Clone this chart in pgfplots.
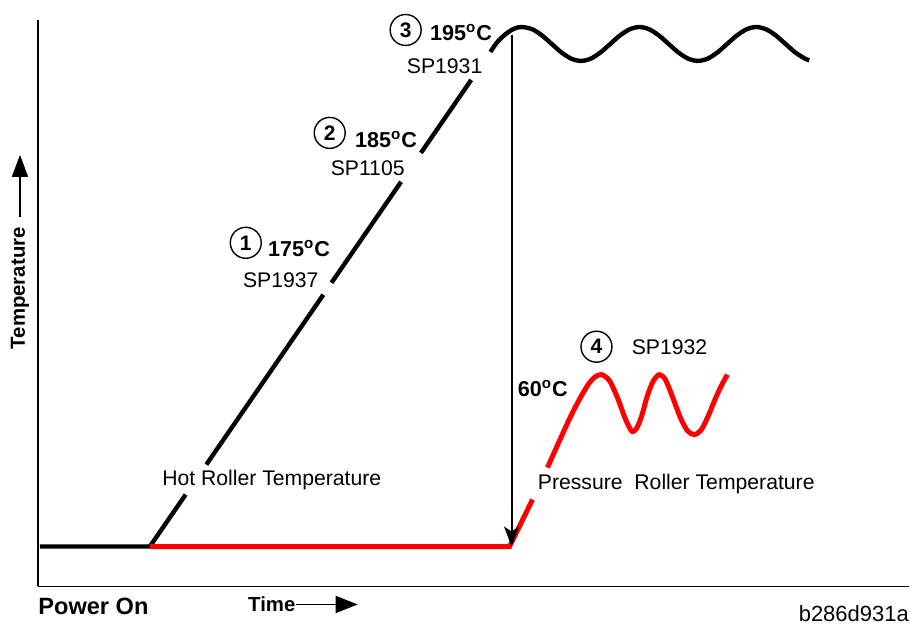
\documentclass[border=0pt]{standalone}
\usepackage{fontspec}
\setmainfont{Liberation Sans}
\usepackage{pgfplots}
\pgfplotsset{compat=1.18}
\usetikzlibrary{arrows.meta}
\begin{document}
\begin{tikzpicture}[
  lab/.style={font=\fontsize{10.6}{12}\selectfont, inner sep=0pt},
  blab/.style={font=\fontsize{10.8}{12}\selectfont\bfseries, inner sep=0pt},
  circ/.style={circle, draw, line width=0.7pt, minimum size=15.5pt, inner sep=0pt, font=\fontsize{10.5}{12}\selectfont\bfseries},
]
\begin{axis}[
  scale only axis, width=436pt, height=283.5pt,
  xmin=38, xmax=910, ymin=42, ymax=609,
  axis lines=left, axis line style={-, line width=0.8pt, black},
  xtick=\empty, ytick=\empty, clip=false,
]
% bounding box of the whole picture
\path (axis cs:0,0) rectangle (axis cs:910,629);

% hot roller (black)
\addplot[black, line width=2.2pt] coordinates {(40,82)(150,82)(185.8,134)};
\addplot[black, line width=2.2pt] coordinates {(206.5,164)(323.6,334)};
\addplot[black, line width=2.2pt] coordinates {(331.8,346)(401.4,447)};
\addplot[black, line width=2.2pt] coordinates {(421.3,476)(471.6,549)};
\addplot[black, line width=2.2pt, smooth] coordinates {
 (490.9,577)(497,586)(505,594)(512,599)(518,601.5)(523,602)
 (532.75,599.7)(542.5,593.5)(552.25,585)(562,576.5)(571.75,570.3)(581.5,568)
 (591.25,570.3)(601,576.5)(610.75,585)(620.5,593.5)(630.25,599.7)(640,602)
 (649.75,599.7)(659.5,593.5)(669.25,585)(679,576.5)(688.75,570.3)(698.5,568)
 (708.25,570.3)(718,576.5)(727.75,585)(737.5,593.5)(747.25,599.7)(757,602)
 (766.75,599.7)(776.5,593.5)(786.25,585)(796,576.5)(805.75,570.3)(810,568.7)};

% pressure roller (red)
\addplot[red, line width=2.5pt] coordinates {(150,82)(510,82)(533,129)};
\addplot[red, line width=2.5pt, smooth] coordinates {
 (548,161)(560,188)(572,214)(582,233)(590,246)(596,252)(602,254)(610,248)
 (618,231)(625,212)(630,201)(633,197)(637,200)(642,212)(648,233)(654,248)
 (660,254)(666,249)(673,232)(681,211)(688,198)(695,194)(702,199)(709,213)
 (716,230)(722,243)(728,254)};

% vertical arrow
\addplot[black, line width=1pt, -{Stealth[length=10pt,width=7.5pt,inset=2.5pt]}] coordinates {(512,594)(512,82)};

% labels
\node[circ] at (axis cs:406,599) {3};
\node[blab, anchor=west] at (axis cs:430,596) {195\textsuperscript{o}C};
\node[lab] at (axis cs:445,563) {SP1931};
\node[circ] at (axis cs:330,496) {2};
\node[blab, anchor=west] at (axis cs:355,489) {185\textsuperscript{o}C};
\node[lab] at (axis cs:368,461) {SP1105};
\node[circ] at (axis cs:246,386) {1};
\node[blab, anchor=west] at (axis cs:268,380) {175\textsuperscript{o}C};
\node[lab] at (axis cs:281,349) {SP1937};
\node[circ] at (axis cs:597,282) {4};
\node[lab, anchor=west] at (axis cs:632,281) {SP1932};
\node[blab, anchor=west] at (axis cs:518,240) {60\textsuperscript{o}C};
\node[lab, anchor=west] at (axis cs:162,149) {Hot Roller Temperature};
\node[lab, anchor=west] at (axis cs:538,145) {Pressure\ \ Roller Temperature};

% bottom texts
\node[font=\fontsize{11.8}{13}\selectfont\bfseries, inner sep=0pt, anchor=west] at (axis cs:38,22) {Power On};
\node[font=\fontsize{10.2}{12}\selectfont\bfseries, inner sep=0pt, anchor=west] at (axis cs:248,24) {Time};
\addplot[black, line width=0.8pt, -{Triangle[length=11pt,width=8.5pt]}] coordinates {(296,24)(358,24)};
\node[font=\fontsize{11}{12}\selectfont, inner sep=0pt, anchor=east] at (axis cs:910,15) {b286d931a};

% y label
\node[font=\fontsize{10.2}{12}\selectfont\bfseries, inner sep=0pt, rotate=90] at (axis cs:20,340.5) {Temperature};
\addplot[black, line width=0.8pt, -{Triangle[length=11pt,width=8pt]}] coordinates {(20,412)(20,474)};
\end{axis}
\end{tikzpicture}
\end{document}
